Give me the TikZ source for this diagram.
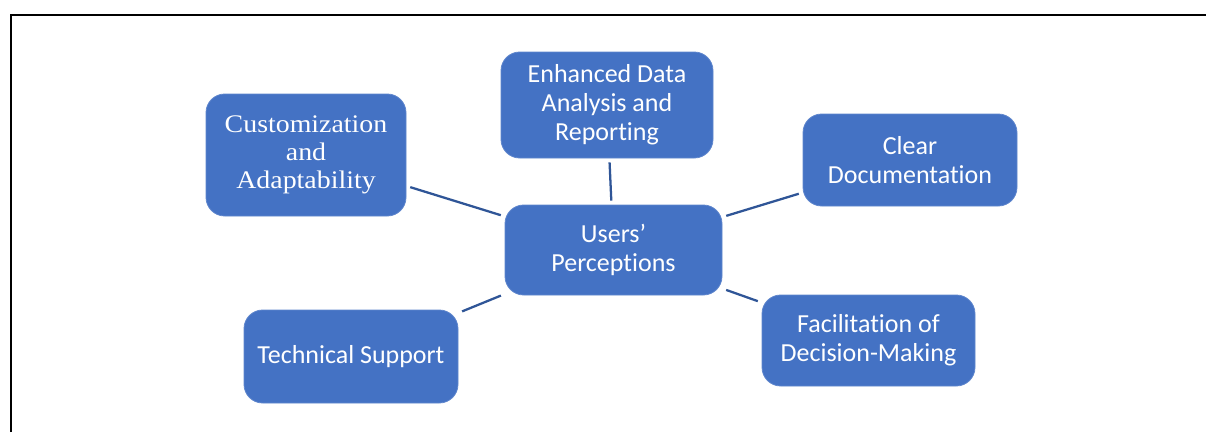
\documentclass[tikz,border=0pt]{standalone}
\usepackage{fontspec}
\setmainfont{Carlito}[RawFeature={-liga}]
\newfontfamily\serifc[FakeStretch=1.1]{Liberation Serif}
\definecolor{boxblue}{HTML}{4472C4}
\definecolor{lineblue}{HTML}{2F5597}
\begin{document}
\begin{tikzpicture}[x=0.75pt,y=-0.75pt,
  box/.style={rectangle, rounded corners=14pt, fill=boxblue, draw=boxblue!85!white, line width=0.6pt,
    text=white, align=center, inner sep=0pt, font=\fontsize{19.5}{21.75}\selectfont},
  conn/.style={draw=lineblue, line width=1.7pt, shorten <=3pt, shorten >=3pt}]
\useasboundingbox (0,0) rectangle (1206,432);
\fill[white] (0,0) rectangle (1206,432);
\draw[line width=1.5pt] (11,432) -- (11,15) -- (1206,15);

\node[box, minimum width=150pt, minimum height=91.5pt, font=\serifc\fontsize{19}{21}\selectfont] (cust) at (306,155) {Customization\\and\\Adaptability};
\node[box, minimum width=159pt, minimum height=79.5pt] (enh) at (607,105) {Enhanced Data\\Analysis and\\Reporting};
\node[box, minimum width=162.75pt, minimum height=67.5pt] (users) at (613.5,250) {Users’\\Perceptions};
\node[box, minimum width=160.5pt, minimum height=69pt] (clear) at (910,160) {Clear\\Documentation};
\node[box, minimum width=159.75pt, minimum height=68.25pt] (fac) at (868.5,340.5) {Facilitation of\\Decision-Making};
\node[box, minimum width=160.5pt, minimum height=69.75pt] (tech) at (351,356.5) {Technical Support};

\draw[conn] (cust) -- (users);
\draw[conn] (enh) -- (users);
\draw[conn] (clear) -- (users);
\draw[conn] (tech) -- (users);
\draw[conn] (fac) -- (users);
\end{tikzpicture}
\end{document}
